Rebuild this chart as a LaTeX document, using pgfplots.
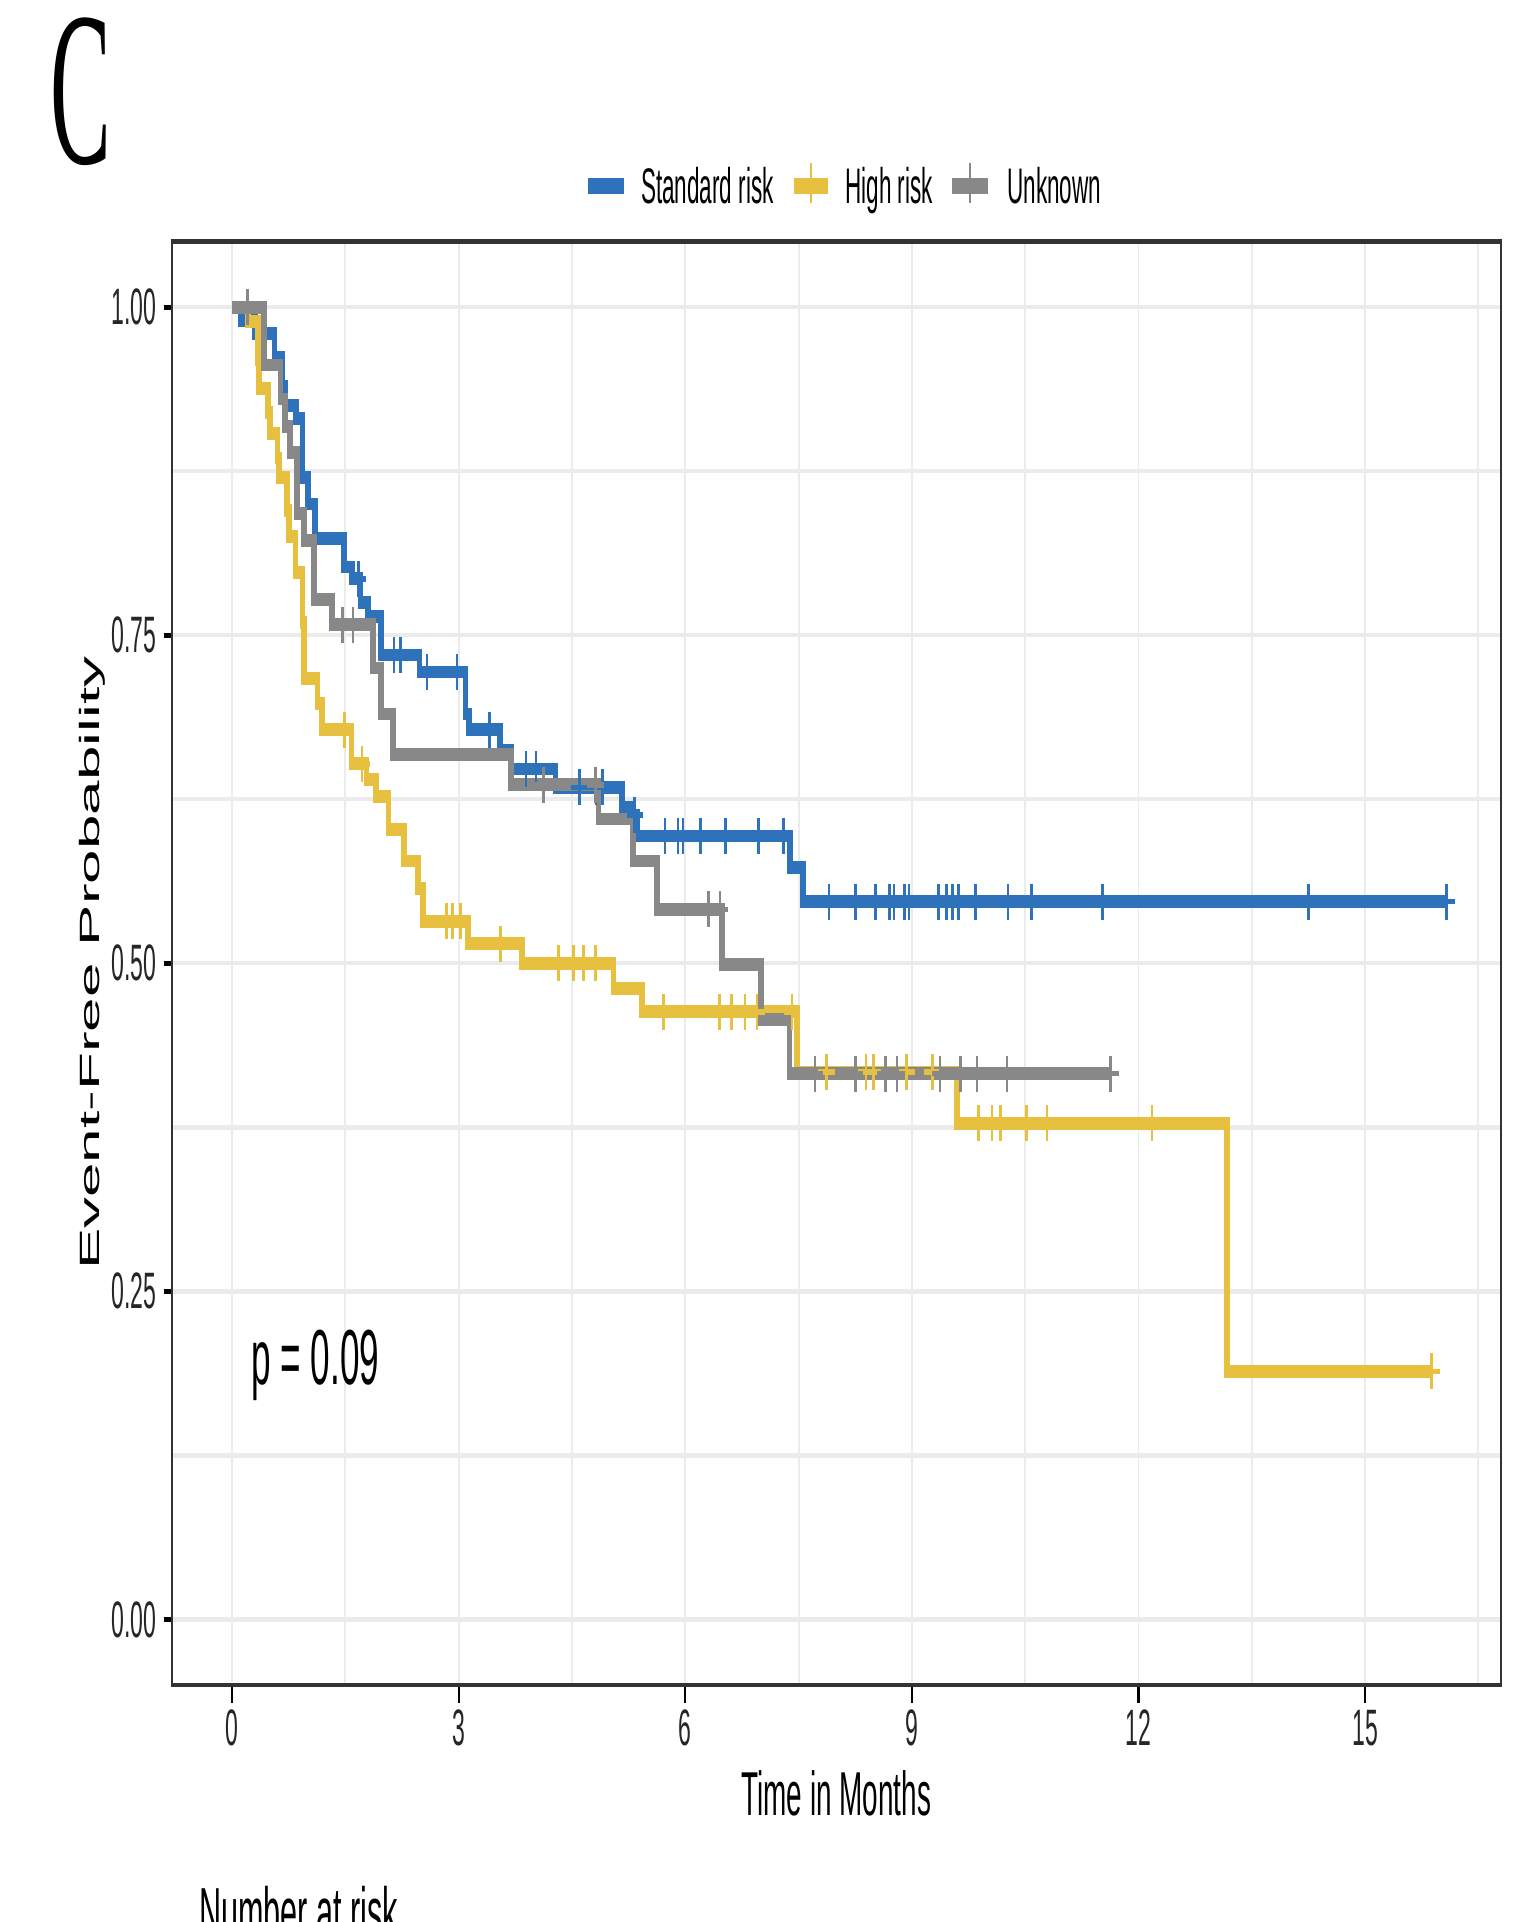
\documentclass[border=0pt]{standalone}
\usepackage{pgfplots}
\pgfplotsset{compat=1.18}
\usepackage{graphicx}
\usepackage{fontspec}
\setmainfont{Liberation Sans}
\newfontfamily\serifC{Liberation Serif}
\definecolor{cblue}{RGB}{47,114,188}
\definecolor{cyellow}{RGB}{231,192,64}
\definecolor{cgray}{RGB}{136,136,136}
\definecolor{gridc}{RGB}{235,235,235}
\definecolor{axc}{RGB}{51,51,51}
\begin{document}
\begin{tikzpicture}
\useasboundingbox (0,0) rectangle (380.75pt,480.5pt);
\fill[white] (0,0) rectangle (380.75pt,480.5pt);
\begin{scope}[transform canvas={xscale=0.45}]
\begin{axis}[
  at={(95.4pt,59.25pt)}, anchor=south west,
  width=738.5pt, height=360.85pt, scale only axis,
  xmin=-0.8, xmax=16.8, ymin=-0.05, ymax=1.05,
  xtick={0,3,6,9,12,15}, xticklabels={0,3,6,9,12,15},
  ytick={0,0.25,0.5,0.75,1}, yticklabels={0.00,0.25,0.50,0.75,1.00},
  minor xtick={1.5,4.5,7.5,10.5,13.5,16.5},
  minor ytick={0.125,0.375,0.625,0.875},
  xmajorgrids, ymajorgrids, xminorgrids, yminorgrids,
  major grid style={gridc, line width=1.1pt},
  minor grid style={gridc, line width=1.1pt},
  tick align=outside, major tick length=4.5pt, minor tick length=0pt,
  xtick pos=bottom, ytick pos=left,
  major tick style={black, line width=1.2pt},
  minor tick style={draw=none},
  axis line style={axc, line width=1.2pt},
  tick label style={font=\fontsize{12.8}{14}\selectfont, text=black!85, inner sep=0pt},
  xticklabel style={yshift=-1.5pt},
  yticklabel style={xshift=-3.7pt},
  xlabel={Time in Months}, ylabel={Event-Free Probability},
  every axis x label/.style={at={(axis description cs:0.5,-0.0901)}, anchor=base, font=\fontsize{15.5}{17}\selectfont},
  every axis y label/.style={at={(axis description cs:-0.0595,0.5)}, anchor=center, rotate=90, font=\fontsize{15.5}{17}\selectfont},
]
% Standard risk
\addplot[cblue, line width=3.2pt, const plot, mark=none] coordinates {
(0,1.0)(0.12,0.99)(0.30,0.98)(0.56,0.962)(0.66,0.94)(0.70,0.925)(0.85,0.915)(0.93,0.87)(1.0,0.85)(1.10,0.824)(1.48,0.802)(1.59,0.793)(1.70,0.775)(1.80,0.764)(1.97,0.735)(2.48,0.722)(3.09,0.690)(3.14,0.678)(3.55,0.662)(3.70,0.648)(4.28,0.634)(5.16,0.619)(5.29,0.613)(5.36,0.597)(7.39,0.573)(7.56,0.547)(16.08,0.547)};
% High risk
\addplot[cyellow, line width=3.2pt, const plot, mark=none] coordinates {
(0,1)(0.21,0.989)(0.34,0.960)(0.36,0.938)(0.47,0.920)(0.50,0.904)(0.60,0.885)(0.62,0.870)(0.73,0.845)(0.75,0.825)(0.84,0.798)(0.93,0.760)(0.95,0.717)(1.13,0.698)(1.19,0.678)(1.58,0.652)(1.78,0.640)(1.90,0.627)(2.07,0.602)(2.28,0.578)(2.46,0.557)(2.53,0.532)(3.12,0.515)(3.84,0.500)(5.05,0.481)(5.43,0.463)(7.48,0.417)(9.60,0.378)(13.17,0.189)(15.88,0.189)};
% Unknown
\addplot[cgray, line width=3.2pt, const plot, mark=none] coordinates {
(0,1)(0.42,0.956)(0.64,0.930)(0.70,0.909)(0.77,0.889)(0.86,0.843)(0.95,0.822)(1.08,0.777)(1.32,0.758)(1.86,0.725)(1.97,0.690)(2.13,0.659)(3.69,0.636)(4.85,0.610)(5.31,0.578)(5.62,0.541)(6.49,0.499)(7.0,0.457)(7.38,0.416)(11.65,0.416)};
% censor marks
\addplot[only marks, mark=+, mark size=4.5pt, cblue, mark options={line width=1.4pt}] coordinates {
(1.67,0.793)(2.14,0.735)(2.23,0.735)(2.58,0.722)(2.98,0.722)(3.41,0.678)(3.89,0.648)(4.02,0.648)(4.60,0.634)(4.82,0.634)(4.90,0.634)(5.33,0.613)(5.73,0.597)(5.90,0.597)(5.97,0.597)(6.20,0.597)(6.53,0.597)(6.97,0.597)(7.30,0.597)(7.90,0.547)(8.25,0.547)(8.52,0.547)(8.70,0.547)(8.76,0.547)(8.90,0.547)(8.96,0.547)(9.35,0.547)(9.46,0.547)(9.54,0.547)(9.62,0.547)(9.84,0.547)(10.27,0.547)(10.58,0.547)(11.52,0.547)(14.25,0.547)(16.08,0.547)};
\addplot[only marks, mark=+, mark size=4.5pt, cyellow, mark options={line width=1.4pt}] coordinates {
(1.49,0.678)(1.72,0.652)(2.84,0.532)(2.92,0.532)(3.02,0.532)(3.55,0.515)(4.32,0.500)(4.52,0.500)(4.65,0.500)(4.81,0.500)(5.71,0.463)(6.45,0.463)(6.61,0.463)(6.79,0.463)(6.95,0.463)(7.41,0.463)(7.87,0.417)(8.39,0.417)(8.49,0.417)(8.93,0.417)(9.27,0.417)(9.88,0.378)(10.06,0.378)(10.17,0.378)(10.52,0.378)(10.79,0.378)(12.18,0.378)(15.88,0.189)};
\addplot[only marks, mark=+, mark size=4.5pt, cgray, mark options={line width=1.4pt}] coordinates {
(0.20,1.0)(1.46,0.758)(1.60,0.758)(4.12,0.636)(4.81,0.636)(6.31,0.541)(6.46,0.541)(7.72,0.416)(8.25,0.416)(8.65,0.416)(8.80,0.416)(9.37,0.416)(9.64,0.416)(9.86,0.416)(10.26,0.416)(11.63,0.416)};
\node[anchor=base west, inner sep=0pt, font=\fontsize{19.5}{21}\selectfont] at (axis cs:0.25,0.179) {p = 0.09};
\end{axis}
% legend
\fill[cblue] (326.7pt,432pt) rectangle (346.7pt,436pt);
\node[anchor=base west, inner sep=0pt, font=\fontsize{12.5}{14}\selectfont] at (356pt,429.5pt) {Standard risk};
\fill[cyellow] (441pt,432pt) rectangle (460pt,436pt);
\draw[cyellow, line width=1.4pt] (450.5pt,429.75pt) -- (450.5pt,439.75pt);
\node[anchor=base west, inner sep=0pt, font=\fontsize{12.5}{14}\selectfont] at (469.4pt,429.5pt) {High risk};
\fill[cgray] (528.9pt,432pt) rectangle (548.9pt,436pt);
\draw[cgray, line width=1.4pt] (538.9pt,429.75pt) -- (538.9pt,439.75pt);
\node[anchor=base west, inner sep=0pt, font=\fontsize{12.5}{14}\selectfont] at (559.4pt,429.5pt) {Unknown};
% panel letter
\node[anchor=base west, inner sep=0pt, font=\serifC\fontsize{55}{55}\selectfont] at (28pt,439.5pt) {\scalebox{0.92}[1]{C}};
% risk table title (cut off)
\node[anchor=base west, inner sep=0pt, font=\fontsize{17}{18}\selectfont] at (110.5pt,-3.4pt) {Number at risk};
\end{scope}
\end{tikzpicture}
\end{document}
